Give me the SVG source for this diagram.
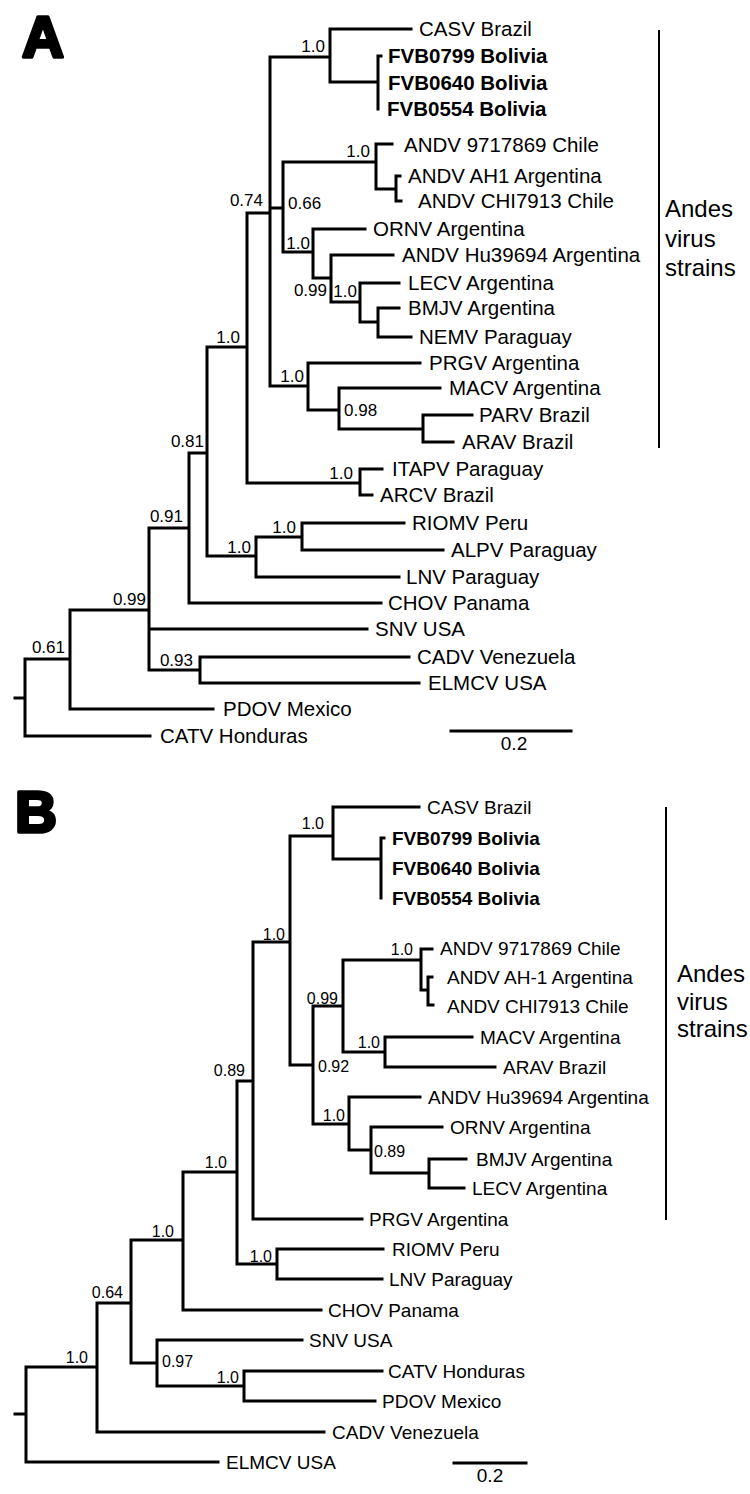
<svg xmlns="http://www.w3.org/2000/svg" width="750" height="1494" viewBox="0 0 750 1494">
<style>
.br{fill:none;stroke:#000;stroke-width:3;stroke-linecap:square;stroke-linejoin:miter}
.bk{fill:none;stroke:#000;stroke-width:2}
.ta{font-family:"Liberation Sans",Arial,sans-serif;font-size:20.5px;fill:#000}
.tb{font-family:"Liberation Sans",Arial,sans-serif;font-size:19px;fill:#000}
.bd{font-weight:bold}
.sa{font-family:"Liberation Sans",Arial,sans-serif;font-size:17px;fill:#000}
.sb{font-family:"Liberation Sans",Arial,sans-serif;font-size:16px;fill:#000}
.sc{font-family:"Liberation Sans",Arial,sans-serif;font-size:19px;fill:#000;text-anchor:middle}
.e{text-anchor:end}
.an{font-family:"Liberation Sans",Arial,sans-serif;font-size:24px;fill:#000}
.pl{font-family:"Liberation Sans",Arial,sans-serif;font-weight:bold;font-size:58px;fill:#000;stroke:#000;stroke-width:3.5;stroke-linejoin:round}
</style>
<rect width="750" height="1494" fill="#fff"/>
<g id="panel-labels">
<text class="pl" x="22" y="57">A</text>
<text class="pl" x="15" y="832">B</text>
</g>
<g id="connectors">
<path id="treeA" class="br" d="M15 698 H25 M25 659 V736 M25 736 H150 M25 659 H70
M70 610 V709 M70 709 H213 M70 610 H149
M149 528 V670 M149 629 H367 M149 670 H200 M149 528 H189
M200 657 V683 M200 657 H409 M200 683 H419
M189 453 V603 M189 603 H381 M189 453 H207
M207 347 V556 M207 556 H256 M207 347 H247
M256 537 V577 M256 577 H399 M256 537 H302
M302 523 V550 M302 523 H404 M302 550 H443
M247 213 V483 M247 483 H360 M247 213 H270
M360 469 V495 M360 469 H382 M360 495 H372
M270 57 V386 M270 57 H330 M270 208 H283 M270 386 H308
M330 29 V82 M330 29 H411 M330 82 H378
M378 56 V109 M378 56 H381
M283 162 V252 M283 162 H376 M283 252 H313
M376 144 V189 M376 144 H392 M376 189 H396
M396 176 V201 M396 176 H400 M396 201 H401
M313 229 V278 M313 229 H365 M313 278 H331
M331 255 V302 M331 255 H393 M331 302 H360
M360 283 V322 M360 283 H399 M360 322 H378
M378 308 V337 M378 308 H399 M378 337 H411
M308 363 V410 M308 363 H420 M308 410 H339
M339 388 V429 M339 388 H440 M339 429 H423
M423 415 V442 M423 415 H472 M423 442 H453"/>
<path id="treeB" class="br" d="M15 1414 H26 M26 1367 V1462 M26 1462 H218 M26 1367 H97
M97 1303 V1432 M97 1432 H324 M97 1303 H131
M131 1240 V1363 M131 1363 H157 M131 1240 H183
M157 1340 V1386 M157 1340 H302 M157 1386 H244
M244 1371 V1401 M244 1371 H382 M244 1401 H375
M183 1172 V1310 M183 1310 H321 M183 1172 H237
M237 1081 V1264 M237 1264 H277 M237 1081 H253
M277 1249 V1279 M277 1249 H383 M277 1279 H382
M253 942 V1219 M253 1219 H362 M253 942 H290
M290 836 V1065 M290 836 H333 M290 1065 H313
M333 807 V859 M333 807 H419 M333 859 H381
M381 838 V898 M381 838 H384
M313 1006 V1124 M313 1006 H343 M313 1124 H349
M343 960 V1052 M343 960 H421 M343 1052 H385
M421 949 V990 M421 949 H432 M421 990 H428
M428 977 V1005 M428 977 H432 M428 1005 H433
M385 1037 V1067 M385 1037 H472 M385 1067 H495
M349 1097 V1150 M349 1097 H420 M349 1150 H371
M371 1127 V1173 M371 1127 H442 M371 1173 H429
M429 1159 V1188 M429 1159 H466 M429 1188 H464"/>
<path id="scaleA" class="br" d="M451 731 H571"/>
<path id="scaleB" class="br" d="M454 1463 H526"/>
<path id="bracketA" class="bk" d="M659 30 V448"/>
<path id="bracketB" class="bk" d="M666 807 V1220"/>
</g>
<g id="taxaA" class="ta">
<g id="A-CASV"><text x="419" y="36">CASV Brazil</text></g>
<g id="A-FVB0799"><text class="bd" x="388" y="63">FVB0799 Bolivia</text></g>
<g id="A-FVB0640"><text class="bd" x="388" y="90">FVB0640 Bolivia</text></g>
<g id="A-FVB0554"><text class="bd" x="387" y="116">FVB0554 Bolivia</text></g>
<g id="A-ANDV9717869"><text x="404" y="152">ANDV 9717869 Chile</text></g>
<g id="A-ANDVAH1"><text x="408" y="183">ANDV AH1 Argentina</text></g>
<g id="A-ANDVCHI7913"><text x="418" y="208">ANDV CHI7913 Chile</text></g>
<g id="A-ORNV"><text x="373" y="236">ORNV Argentina</text></g>
<g id="A-ANDVHu39694"><text x="402" y="262">ANDV Hu39694 Argentina</text></g>
<g id="A-LECV"><text x="408" y="290">LECV Argentina</text></g>
<g id="A-BMJV"><text x="408" y="315">BMJV Argentina</text></g>
<g id="A-NEMV"><text x="419" y="344">NEMV Paraguay</text></g>
<g id="A-PRGV"><text x="429" y="370">PRGV Argentina</text></g>
<g id="A-MACV"><text x="449" y="395">MACV Argentina</text></g>
<g id="A-PARV"><text x="479" y="422">PARV Brazil</text></g>
<g id="A-ARAV"><text x="462" y="449">ARAV Brazil</text></g>
<g id="A-ITAPV"><text x="392" y="476">ITAPV Paraguay</text></g>
<g id="A-ARCV"><text x="380" y="502">ARCV Brazil</text></g>
<g id="A-RIOMV"><text x="412" y="530">RIOMV Peru</text></g>
<g id="A-ALPV"><text x="451" y="557">ALPV Paraguay</text></g>
<g id="A-LNV"><text x="406" y="584">LNV Paraguay</text></g>
<g id="A-CHOV"><text x="388" y="610">CHOV Panama</text></g>
<g id="A-SNV"><text x="375" y="636">SNV USA</text></g>
<g id="A-CADV"><text x="417" y="664">CADV Venezuela</text></g>
<g id="A-ELMCV"><text x="428" y="690">ELMCV USA</text></g>
<g id="A-PDOV"><text x="223" y="716">PDOV Mexico</text></g>
<g id="A-CATV"><text x="160" y="743">CATV Honduras</text></g>
</g>
<g id="supportA" class="sa">
<text class="e" x="325" y="52">1.0</text>
<text class="e" x="370" y="157">1.0</text>
<text class="e" x="263" y="206">0.74</text>
<text x="288" y="209">0.66</text>
<text class="e" x="310" y="249">1.0</text>
<text class="e" x="327" y="296">0.99</text>
<text class="e" x="357" y="297">1.0</text>
<text class="e" x="240" y="343">1.0</text>
<text class="e" x="304" y="382">1.0</text>
<text x="344" y="416">0.98</text>
<text class="e" x="204" y="447">0.81</text>
<text class="e" x="353" y="479">1.0</text>
<text class="e" x="183" y="522">0.91</text>
<text class="e" x="296" y="533">1.0</text>
<text class="e" x="251" y="553">1.0</text>
<text class="e" x="146" y="605">0.99</text>
<text class="e" x="65" y="653">0.61</text>
<text class="e" x="193" y="666">0.93</text>
</g>
<g id="scale-labels">
<text class="sc" x="514" y="750">0.2</text>
<text class="sc" x="490" y="1482">0.2</text>
</g>
<g id="andesA" class="an">
<text x="665" y="217">Andes</text>
<text x="665" y="247">virus</text>
<text x="665" y="276">strains</text>
</g>
<g id="taxaB" class="tb">
<g id="B-CASV"><text x="427" y="814">CASV Brazil</text></g>
<g id="B-FVB0799"><text class="bd" x="392" y="845">FVB0799 Bolivia</text></g>
<g id="B-FVB0640"><text class="bd" x="392" y="875">FVB0640 Bolivia</text></g>
<g id="B-FVB0554"><text class="bd" x="392" y="905">FVB0554 Bolivia</text></g>
<g id="B-ANDV9717869"><text x="440" y="955">ANDV 9717869 Chile</text></g>
<g id="B-ANDVAH1"><text x="447" y="984">ANDV AH-1 Argentina</text></g>
<g id="B-ANDVCHI7913"><text x="447" y="1013">ANDV CHI7913 Chile</text></g>
<g id="B-MACV"><text x="480" y="1044">MACV Argentina</text></g>
<g id="B-ARAV"><text x="503" y="1074">ARAV Brazil</text></g>
<g id="B-ANDVHu39694"><text x="428" y="1104">ANDV Hu39694 Argentina</text></g>
<g id="B-ORNV"><text x="450" y="1134">ORNV Argentina</text></g>
<g id="B-BMJV"><text x="476" y="1166">BMJV Argentina</text></g>
<g id="B-LECV"><text x="472" y="1195">LECV Argentina</text></g>
<g id="B-PRGV"><text x="369" y="1226">PRGV Argentina</text></g>
<g id="B-RIOMV"><text x="392" y="1256">RIOMV Peru</text></g>
<g id="B-LNV"><text x="389" y="1286">LNV Paraguay</text></g>
<g id="B-CHOV"><text x="328" y="1317">CHOV Panama</text></g>
<g id="B-SNV"><text x="309" y="1347">SNV USA</text></g>
<g id="B-CATV"><text x="388" y="1378">CATV Honduras</text></g>
<g id="B-PDOV"><text x="382" y="1408">PDOV Mexico</text></g>
<g id="B-CADV"><text x="332" y="1439">CADV Venezuela</text></g>
<g id="B-ELMCV"><text x="226" y="1469">ELMCV USA</text></g>
</g>
<g id="supportB" class="sb">
<text class="e" x="324" y="829">1.0</text>
<text class="e" x="285" y="940">1.0</text>
<text class="e" x="413" y="955">1.0</text>
<text class="e" x="338" y="1004">0.99</text>
<text class="e" x="380" y="1048">1.0</text>
<text x="318" y="1072">0.92</text>
<text class="e" x="245" y="1076">0.89</text>
<text class="e" x="345" y="1121">1.0</text>
<text x="374" y="1157">0.89</text>
<text class="e" x="227" y="1168">1.0</text>
<text class="e" x="174" y="1237">1.0</text>
<text class="e" x="272" y="1262">1.0</text>
<text class="e" x="123" y="1298">0.64</text>
<text class="e" x="88" y="1363">1.0</text>
<text x="162" y="1367">0.97</text>
<text class="e" x="239" y="1383">1.0</text>
</g>
<g id="andesB" class="an">
<text x="677" y="982">Andes</text>
<text x="677" y="1010">virus</text>
<text x="677" y="1037">strains</text>
</g>
</svg>
